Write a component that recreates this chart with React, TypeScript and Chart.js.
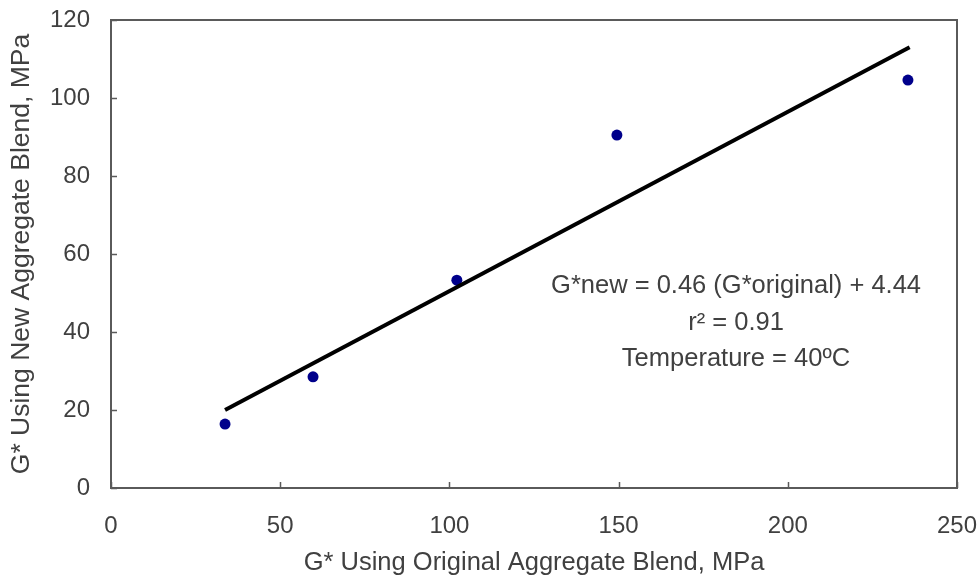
import React, { useEffect, useRef } from "react";
import { Chart, registerables } from "chart.js";

Chart.register(...registerables);

const pointX = [33.7, 59.7, 102.2, 149.5, 235.5];
const pointY = [16.4, 28.5, 53.3, 90.5, 104.6];
const trendX = [33.7, 236];
const trendY = [20.0, 113.0];
const xTicks = [0, 50, 100, 150, 200, 250];
const yTicks = [0, 20, 40, 60, 80, 100, 120];
const annotationLines = ["G*new = 0.46 (G*original) + 4.44", "r² = 0.91", "Temperature = 40ºC"];

const FONT = "'Liberation Sans', Arial, sans-serif";
const AXIS_COLOR = "#5a5a5a";
const TEXT_COLOR = "#404040";
const FS = 24;

const framePlugin = {
  id: "frame",
  afterDraw(chart: any) {
    const { ctx, chartArea } = chart;
    const xs = chart.scales.x;
    const ys = chart.scales.y;
    ctx.save();
    ctx.strokeStyle = AXIS_COLOR;
    ctx.lineWidth = 2;
    ctx.strokeRect(chartArea.left, chartArea.top, chartArea.right - chartArea.left, chartArea.bottom - chartArea.top);
    ctx.lineWidth = 1.5;
    ctx.beginPath();
    yTicks.forEach((v) => {
      const py = Math.round(ys.getPixelForValue(v)) + 0.5;
      ctx.moveTo(chartArea.left, py);
      ctx.lineTo(chartArea.left + 6, py);
    });
    xTicks.forEach((v) => {
      const px = Math.round(xs.getPixelForValue(v)) + 0.5;
      ctx.moveTo(px, chartArea.bottom);
      ctx.lineTo(px, chartArea.bottom - 6);
    });
    ctx.stroke();
    ctx.fillStyle = TEXT_COLOR;
    ctx.font = `25.5px ${FONT}`;
    ctx.textAlign = "center";
    ctx.textBaseline = "middle";
    const cx = xs.getPixelForValue(184.7);
    const baseY = ys.getPixelForValue(51.7);
    annotationLines.forEach((t, i) => {
      ctx.fillText(t, cx, baseY + i * 36.5);
    });
    ctx.restore();
  },
};

export default function App() {
  const ref = useRef<HTMLCanvasElement>(null);
  useEffect(() => {
    if (!ref.current) return;
    const chart = new Chart(ref.current, {
      type: "scatter",
      data: {
        datasets: [
          {
            type: "line",
            data: trendX.map((x, i) => ({ x, y: trendY[i] })),
            borderColor: "#000000",
            borderWidth: 4,
            pointRadius: 0,
            fill: false,
          } as any,
          {
            data: pointX.map((x, i) => ({ x, y: pointY[i] })),
            backgroundColor: "#00008b",
            borderColor: "#00008b",
            pointRadius: 5.5,
            borderWidth: 0,
          },
        ],
      },
      options: {
        animation: false,
        responsive: false,
        maintainAspectRatio: false,
        layout: { padding: { top: 20, right: 22, left: 0, bottom: 0 } },
        plugins: { legend: { display: false }, tooltip: { enabled: false } },
        scales: {
          x: {
            type: "linear",
            min: 0,
            max: 250,
            afterBuildTicks: (s: any) => {
              s.ticks = xTicks.map((v) => ({ value: v }));
            },
            afterFit: (s: any) => {
              s.height = 91;
              s.paddingLeft = 0;
              s.paddingRight = 0;
            },
            grid: { display: false, drawTicks: false },
            border: { display: false },
            ticks: { color: TEXT_COLOR, font: { size: FS, family: FONT }, padding: 24, maxRotation: 0 },
            title: {
              display: true,
              text: "G* Using Original Aggregate Blend, MPa",
              color: TEXT_COLOR,
              font: { size: 25.5, family: FONT },
              padding: { top: 0, bottom: 1 },
            },
          },
          y: {
            type: "linear",
            min: 0,
            max: 120,
            afterBuildTicks: (s: any) => {
              s.ticks = yTicks.map((v) => ({ value: v }));
            },
            afterFit: (s: any) => {
              s.width = 111;
              s.paddingTop = 0;
              s.paddingBottom = 0;
            },
            grid: { display: false, drawTicks: false },
            border: { display: false },
            ticks: { color: TEXT_COLOR, font: { size: FS, family: FONT }, padding: 21 },
            title: {
              display: true,
              text: "G* Using New Aggregate Blend, MPa",
              color: TEXT_COLOR,
              font: { size: 26.5, family: FONT },
              padding: { top: 6, bottom: 0 },
            },
          },
        },
      },
      plugins: [framePlugin],
    });
    return () => chart.destroy();
  }, []);
  return (
    <div style={{ position: "absolute", left: 0, top: 0, width: 979, height: 579, background: "#fff" }}>
      <canvas ref={ref} width={979} height={579} style={{ width: 979, height: 579, display: "block" }} />
    </div>
  );
}
